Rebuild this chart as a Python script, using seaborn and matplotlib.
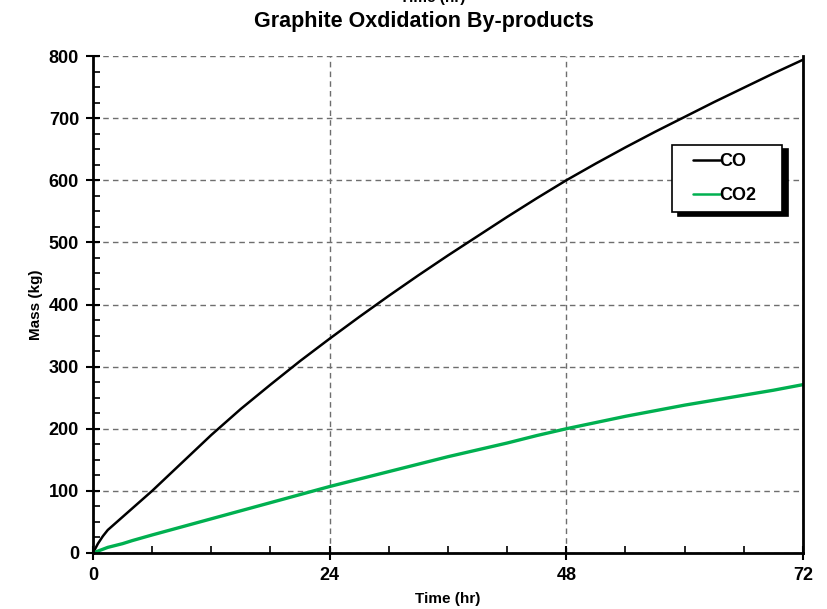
import pandas as pd
import seaborn as sns
import matplotlib.pyplot as plt
from matplotlib.ticker import MultipleLocator
from matplotlib.legend_handler import HandlerLine2D

# Time (hr) and by-product mass (kg)
hours = [0, 0.5, 1, 1.5, 2, 3, 4, 6, 9, 12, 15, 18, 21, 24, 27, 30, 33, 36,
         39, 42, 45, 48, 51, 54, 57, 60, 63, 66, 69, 72]
co_mass = [0, 15, 27, 37, 44, 58, 72, 100, 145, 190, 232, 271, 309, 345, 380,
           414, 447, 479, 510, 541, 571, 600, 627, 653, 678, 702, 726, 749,
           772, 794]
co2_mass = [0, 3, 6, 9, 11, 15, 20, 29, 42, 55, 68, 81, 94, 107, 119, 131,
            143, 155, 166, 177, 189, 200, 210, 220, 229, 238, 246, 254, 262,
            271]

series_names = ['CO', 'CO2']
series_colors = ['#000000', '#00b050']


def build_frame():
    frames = []
    for name, values in zip(series_names, [co_mass, co2_mass]):
        frames.append(pd.DataFrame({'Time (hr)': hours, 'Mass (kg)': values, 'gas': name}))
    return pd.concat(frames, ignore_index=True)


def short_handle(legline, orig):
    # draw only the right part of the legend line (leaves a left margin in the box)
    legline.update_from(orig)
    xs = list(legline.get_xdata())
    ys = list(legline.get_ydata())
    x0, x1 = xs[0], xs[-1]
    legline.set_data([x0 + 0.325 * (x1 - x0), x1], [ys[0], ys[0]])
    legline.set_linewidth(1.8)


def main():
    sns.set_style("white")
    plt.rcParams['font.family'] = ['Liberation Sans', 'DejaVu Sans']
    plt.rcParams['font.weight'] = 'bold'
    plt.rcParams['text.color'] = 'black'

    data = build_frame()

    fig = plt.figure(figsize=(8.28, 6.09), dpi=100)
    ax = fig.add_axes([0.1123, 0.092, 0.8575, 0.816])

    sns.lineplot(data=data, x='Time (hr)', y='Mass (kg)', hue='gas',
                 palette=dict(zip(series_names, series_colors)), ax=ax)
    for line, lw in zip(ax.get_lines(), [1.8, 2.4]):
        line.set_linewidth(lw)

    ax.set_xlim(0, 72)
    ax.set_ylim(0, 800)
    ax.xaxis.set_major_locator(MultipleLocator(24))
    ax.xaxis.set_minor_locator(MultipleLocator(6))
    ax.yaxis.set_major_locator(MultipleLocator(100))
    ax.yaxis.set_minor_locator(MultipleLocator(25))

    ax.grid(True, which='major', color='#6e6e6e', linestyle=(0, (4, 3)), linewidth=1)
    ax.tick_params(which='major', direction='inout', length=10, width=1.5,
                   labelsize=13, pad=5, colors='black')
    ax.tick_params(which='minor', direction='in', length=5, width=1.2, colors='black')
    ax.tick_params(axis='y', which='both', left=True)
    ax.tick_params(axis='x', which='both', bottom=True)
    for lbl in ax.get_xticklabels() + ax.get_yticklabels():
        lbl.set_fontweight('bold')

    for side in ['left', 'bottom', 'right']:
        ax.spines[side].set_color('black')
        ax.spines[side].set_linewidth(2)
    ax.spines['top'].set_visible(False)

    ax.set_xlabel('Time (hr)', fontsize=11, fontweight='bold', labelpad=6, color='black')
    ax.set_ylabel('Mass (kg)', fontsize=11, fontweight='bold', labelpad=4, color='black')

    fig.text(0.512, 0.956, 'Graphite Oxdidation By-products', ha='center',
             va='baseline', fontsize=15.5, fontweight='bold', color='black')
    # clipped top axis title, as in the original export
    fig.text(0.523, 1 - 2 / 609, 'Time (hr)', ha='center', va='baseline',
             fontsize=11, fontweight='bold', color='black')

    handles, labels = ax.get_legend_handles_labels()
    leg = ax.legend(handles, labels, loc='upper left',
                    bbox_to_anchor=(0.8155, 0.621, 0.155, 0.2), mode='expand',
                    frameon=True, fancybox=False, borderaxespad=0,
                    shadow={'color': 'black', 'alpha': 1.0, 'ox': 4.5, 'oy': -3},
                    handlelength=2.2, handletextpad=0.0, borderpad=0.44,
                    labelspacing=0.94, prop={'weight': 'bold', 'size': 13},
                    handler_map={h: HandlerLine2D(update_func=short_handle) for h in handles})
    leg.get_frame().set_edgecolor('black')
    leg.get_frame().set_linewidth(1.2)
    leg.get_frame().set_alpha(1)
    for txt in leg.get_texts():
        txt.set_color('black')

    fig.savefig('out.png', dpi=100)
    plt.close(fig)


if __name__ == "__main__":
    main()
